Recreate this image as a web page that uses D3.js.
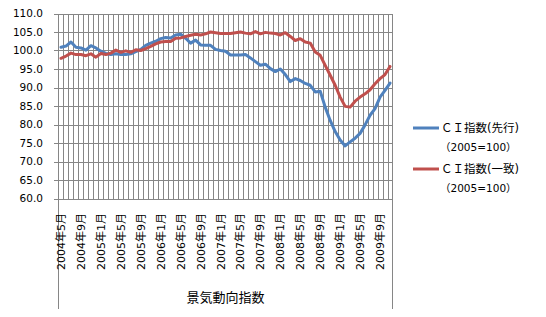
<!DOCTYPE html>
<html>
<head>
<meta charset="utf-8">
<script src="https://cdn.jsdelivr.net/npm/d3@7"></script>
<style>
  body { margin: 0; background: #fff; }
  svg { display: block; }
  text { font-family: "DejaVu Sans", "Noto Sans CJK JP", sans-serif; fill: #000; }
</style>
</head>
<body>
<svg></svg>
<script>
// CI indices, monthly 2004/5 - 2009/11
const months = [
  '2004年5月','2004年6月','2004年7月','2004年8月','2004年9月','2004年10月','2004年11月','2004年12月',
  '2005年1月','2005年2月','2005年3月','2005年4月','2005年5月','2005年6月','2005年7月','2005年8月',
  '2005年9月','2005年10月','2005年11月','2005年12月','2006年1月','2006年2月','2006年3月','2006年4月',
  '2006年5月','2006年6月','2006年7月','2006年8月','2006年9月','2006年10月','2006年11月','2006年12月',
  '2007年1月','2007年2月','2007年3月','2007年4月','2007年5月','2007年6月','2007年7月','2007年8月',
  '2007年9月','2007年10月','2007年11月','2007年12月','2008年1月','2008年2月','2008年3月','2008年4月',
  '2008年5月','2008年6月','2008年7月','2008年8月','2008年9月','2008年10月','2008年11月','2008年12月',
  '2009年1月','2009年2月','2009年3月','2009年4月','2009年5月','2009年6月','2009年7月','2009年8月',
  '2009年9月','2009年10月','2009年11月'
];

const tickLabels = [
  '2004年5月','2004年9月','2005年1月','2005年5月','2005年9月','2006年1月','2006年5月',
  '2006年9月','2007年1月','2007年5月','2007年9月','2008年1月','2008年5月','2008年9月',
  '2009年1月','2009年5月','2009年9月'
];

const yTicks = [60, 65, 70, 75, 80, 85, 90, 95, 100, 105, 110];

const leading = [
  100.9, 101.2, 102.3, 100.9, 100.7, 100.1, 101.3, 100.7, 99.8, 99.2, 98.9, 99.1,
  98.9, 98.9, 99.1, 99.7, 100.3, 101.4, 102.0, 102.5, 103.2, 103.5, 103.4, 104.2,
  104.4, 103.3, 102.0, 102.8, 101.5, 101.4, 101.4, 100.3, 100.0, 99.8, 98.8, 98.8,
  98.8, 98.9, 98.0, 97.0, 96.0, 96.3, 95.1, 94.3, 95.0, 93.5, 91.6, 92.4,
  91.9, 91.1, 90.6, 88.8, 89.0, 84.7, 81.1, 78.1, 75.8, 74.2, 75.3, 76.3,
  77.6, 79.9, 82.5, 84.3, 87.4, 89.2, 91.2
];

const coincident = [
  97.9, 98.5, 99.3, 98.9, 98.9, 98.6, 99.1, 98.2, 99.2, 98.9, 99.3, 100.1,
  99.5, 99.9, 99.5, 100.2, 100.0, 100.5, 101.1, 101.8, 102.3, 102.4, 102.4, 103.3,
  103.4, 103.8, 104.1, 104.4, 104.2, 104.5, 105.0, 104.8, 104.6, 104.6, 104.6, 104.8,
  105.0, 104.7, 104.5, 105.1, 104.5, 104.9, 104.7, 104.6, 104.2, 104.8, 103.8, 102.7,
  103.2, 102.3, 102.0, 99.6, 98.7, 96.0, 93.3, 90.6, 87.4, 84.9, 84.7, 86.3,
  87.4, 88.3, 89.4, 91.0, 92.4, 93.5, 95.7
];

const series = [
  {name: 'ＣＩ指数(先行)', sub: '（2005=100）', values: leading, color: '#4F81BD'},
  {name: 'ＣＩ指数(一致)', sub: '（2005=100）', values: coincident, color: '#C0504D'}
];

const width = 546, height = 317;
const plotLeft = 58.5, plotRight = 392.5, plotTop = 13.5, plotBottom = 198.5;
const gridColor = '#868686';

const svg = d3.select('svg')
  .attr('width', width)
  .attr('height', height);

const x = d3.scaleBand()
  .domain(months)
  .range([plotLeft, plotRight])
  .padding(0);

const y = d3.scaleLinear()
  .domain([60, 110])
  .range([plotBottom, plotTop]);

const cx = d => x(d) + x.bandwidth() / 2;

// vertical gridlines at category boundaries
const grid = svg.append('g')
  .attr('stroke', gridColor)
  .attr('stroke-width', 1)
  .attr('shape-rendering', 'crispEdges');

grid.selectAll('line.v')
  .data(months.slice(1))
  .join('line')
  .attr('class', 'v')
  .attr('x1', d => Math.round(x(d)) + 0.5)
  .attr('x2', d => Math.round(x(d)) + 0.5)
  .attr('y1', plotTop)
  .attr('y2', plotBottom);

// horizontal gridlines (with small tick stubs on the left)
grid.selectAll('line.h')
  .data(yTicks)
  .join('line')
  .attr('class', 'h')
  .attr('x1', plotLeft - 5)
  .attr('x2', plotRight)
  .attr('y1', d => Math.round(y(d)) + 0.5)
  .attr('y2', d => Math.round(y(d)) + 0.5);

// outer verticals run down to the bottom of the chart
grid.append('line')
  .attr('x1', plotLeft).attr('x2', plotLeft)
  .attr('y1', plotTop).attr('y2', 309);
grid.append('line')
  .attr('x1', plotRight).attr('x2', plotRight)
  .attr('y1', plotTop).attr('y2', 309);

// y axis labels
svg.append('g')
  .selectAll('text')
  .data(yTicks)
  .join('text')
  .attr('x', 43)
  .attr('y', d => y(d))
  .attr('dy', '0.36em')
  .attr('text-anchor', 'end')
  .attr('font-size', 10.5)
  .text(d => d.toFixed(1));

// x axis labels, rotated, reading upward from a common baseline
svg.append('g')
  .selectAll('text')
  .data(tickLabels)
  .join('text')
  .attr('transform', d => `translate(${cx(d) + 4},270) rotate(-90)`)
  .attr('text-anchor', 'start')
  .attr('font-size', 11)
  .text(d => d);

// x axis title
svg.append('text')
  .attr('x', (plotLeft + plotRight) / 2)
  .attr('y', 302)
  .attr('text-anchor', 'middle')
  .attr('font-size', 13)
  .attr('font-family', '"Noto Sans CJK JP", sans-serif')
  .text('景気動向指数');

// series lines
const line = d3.line()
  .x((d, i) => cx(months[i]))
  .y(d => y(d));

svg.append('g')
  .selectAll('path')
  .data(series)
  .join('path')
  .attr('fill', 'none')
  .attr('stroke', d => d.color)
  .attr('stroke-width', 3)
  .attr('stroke-linejoin', 'round')
  .attr('stroke-linecap', 'round')
  .attr('d', d => line(d.values));

// legend
const legend = svg.append('g')
  .selectAll('g')
  .data(series)
  .join('g')
  .attr('transform', (d, i) => `translate(413,${128 + i * 41})`);

legend.append('line')
  .attr('x1', 0).attr('x2', 26)
  .attr('y1', 0).attr('y2', 0)
  .attr('stroke', d => d.color)
  .attr('stroke-width', 3);

legend.append('text')
  .attr('x', 28)
  .attr('y', 0)
  .attr('dy', '0.36em')
  .attr('font-size', 11.5)
  .attr('font-family', '"Noto Sans CJK JP", sans-serif')
  .text(d => d.name);

legend.append('text')
  .attr('x', 27)
  .attr('y', 19)
  .attr('dy', '0.36em')
  .attr('font-size', 10.5)
  .text(d => d.sub);
</script>
</body>
</html>
